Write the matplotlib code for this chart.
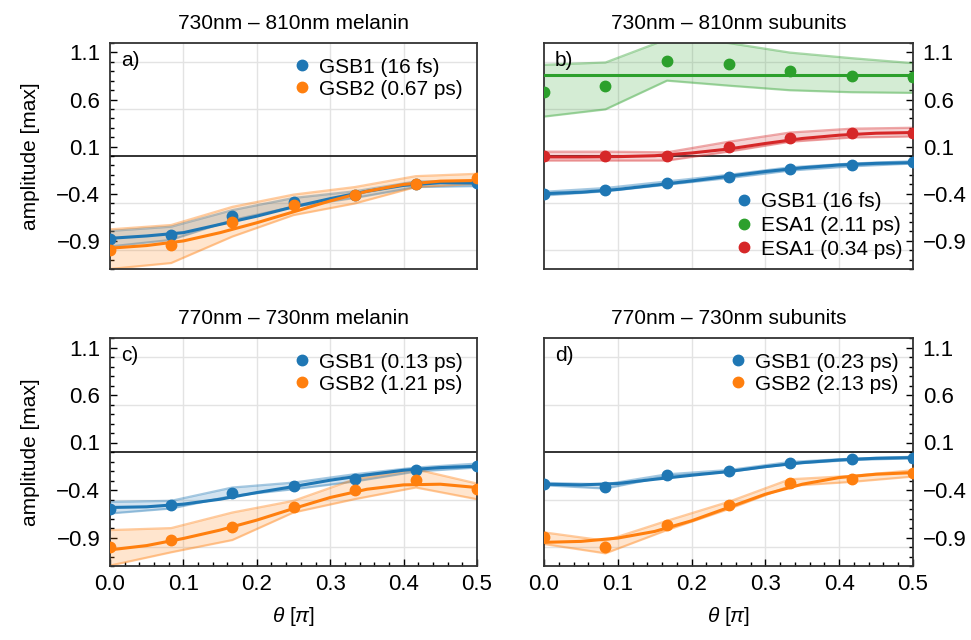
import matplotlib
matplotlib.use('Agg')
import matplotlib.pyplot as plt
from matplotlib.ticker import MultipleLocator, FixedLocator

plt.rcParams['font.family'] = ['Liberation Sans', 'DejaVu Sans']
plt.rcParams['mathtext.fontset'] = 'custom'
plt.rcParams['mathtext.it'] = 'Liberation Sans:italic'
plt.rcParams['mathtext.rm'] = 'Liberation Sans'
plt.rcParams['font.size'] = 15

# angle of the measured points and of the fit curves, in units of pi
theta = [0, 0.0833, 0.1667, 0.25, 0.3333, 0.4167, 0.5]
theta_fit = [0, 0.05, 0.1, 0.15, 0.2, 0.25, 0.3, 0.35, 0.4, 0.45, 0.5]

titles = ['730nm – 810nm melanin', '730nm – 810nm subunits',
          '770nm – 730nm melanin', '770nm – 730nm subunits']
panel_tags = ['a)', 'b)', 'c)', 'd)']

# panel a
a_gsb1_pts = [-0.884, -0.839, -0.635, -0.491, -0.41, -0.302, -0.288]
a_gsb1_hi = [-0.796, -0.751, -0.575, -0.446, -0.375, -0.27, -0.27]
a_gsb1_lo = [-0.961, -0.891, -0.68, -0.54, -0.446, -0.33, -0.32]
a_gsb1_fit = [-0.874, -0.849, -0.814, -0.726, -0.639, -0.54, -0.453, -0.375, -0.312, -0.284, -0.288]
a_gsb2_pts = [-0.996, -0.94, -0.698, -0.516, -0.418, -0.295, -0.235]
a_gsb2_hi = [-0.779, -0.733, -0.54, -0.41, -0.33, -0.214, -0.189]
a_gsb2_lo = [-1.2, -1.137, -0.856, -0.628, -0.505, -0.33, -0.295]
a_gsb2_fit = [-0.979, -0.951, -0.902, -0.814, -0.709, -0.593, -0.477, -0.375, -0.302, -0.267, -0.26]

# panel b
b_gsb1_pts = [-0.40, -0.358, -0.288, -0.218, -0.137, -0.095, -0.067]
b_gsb1_hi = [-0.38, -0.34, -0.27, -0.20, -0.12, -0.08, -0.055]
b_gsb1_lo = [-0.42, -0.375, -0.305, -0.235, -0.155, -0.11, -0.08]
b_gsb1_fit = [-0.40, -0.385, -0.355, -0.31, -0.265, -0.215, -0.165, -0.125, -0.095, -0.078, -0.07]
b_esa_slow_pts = [0.681, 0.74, 1.004, 0.975, 0.898, 0.853, 0.835]
b_esa_slow_hi = [0.968, 0.993, 1.24, 1.2, 1.098, 1.039, 0.986]
b_esa_slow_lo = [0.418, 0.495, 0.8, 0.747, 0.698, 0.677, 0.67]
b_esa_slow_fit = [0.863] * 11
b_esa_fast_pts = [0.004, 0.004, -0.004, 0.091, 0.196, 0.242, 0.249]
b_esa_fast_hi = [0.046, 0.046, 0.039, 0.151, 0.249, 0.29, 0.30]
b_esa_fast_lo = [-0.049, -0.049, -0.049, 0.046, 0.151, 0.196, 0.207]
b_esa_fast_fit = [-0.01, -0.01, -0.007, 0.003, 0.032, 0.074, 0.133, 0.186, 0.221, 0.242, 0.249]

# panel c
c_gsb1_pts = [-0.595, -0.556, -0.427, -0.357, -0.28, -0.189, -0.147]
c_gsb1_hi = [-0.525, -0.514, -0.374, -0.322, -0.234, -0.164, -0.122]
c_gsb1_lo = [-0.647, -0.595, -0.462, -0.392, -0.311, -0.206, -0.164]
c_gsb1_fit = [-0.584, -0.577, -0.549, -0.497, -0.427, -0.364, -0.297, -0.241, -0.192, -0.164, -0.15]
c_gsb2_pts = [-0.997, -0.927, -0.787, -0.574, -0.402, -0.297, -0.392]
c_gsb2_hi = [-0.822, -0.801, -0.637, -0.514, -0.287, -0.182, -0.332]
c_gsb2_lo = [-1.196, -1.056, -0.927, -0.637, -0.497, -0.374, -0.497]
c_gsb2_fit = [-1.03, -0.985, -0.91, -0.822, -0.717, -0.595, -0.479, -0.392, -0.346, -0.339, -0.374]

# panel d
d_gsb1_pts = [-0.339, -0.367, -0.245, -0.199, -0.115, -0.077, -0.059]
d_gsb1_hi = [-0.325, -0.34, -0.235, -0.19, -0.105, -0.07, -0.05]
d_gsb1_lo = [-0.35, -0.385, -0.255, -0.21, -0.125, -0.085, -0.066]
d_gsb1_fit = [-0.339, -0.346, -0.332, -0.287, -0.245, -0.206, -0.154, -0.112, -0.084, -0.066, -0.059]
d_gsb2_pts = [-0.899, -0.997, -0.77, -0.56, -0.322, -0.28, -0.224]
d_gsb2_hi = [-0.846, -0.934, -0.724, -0.525, -0.287, -0.252, -0.192]
d_gsb2_lo = [-0.969, -1.067, -0.822, -0.602, -0.357, -0.315, -0.259]
d_gsb2_fit = [-0.951, -0.941, -0.906, -0.836, -0.724, -0.584, -0.444, -0.339, -0.269, -0.234, -0.217]

blue, orange, green, red = '#1f77b4', '#ff7f0e', '#2ca02c', '#d62728'

panels = [
    [('GSB1 (16 fs)', blue, a_gsb1_pts, a_gsb1_lo, a_gsb1_hi, a_gsb1_fit),
     ('GSB2 (0.67 ps)', orange, a_gsb2_pts, a_gsb2_lo, a_gsb2_hi, a_gsb2_fit)],
    [('GSB1 (16 fs)', blue, b_gsb1_pts, b_gsb1_lo, b_gsb1_hi, b_gsb1_fit),
     ('ESA1 (2.11 ps)', green, b_esa_slow_pts, b_esa_slow_lo, b_esa_slow_hi, b_esa_slow_fit),
     ('ESA1 (0.34 ps)', red, b_esa_fast_pts, b_esa_fast_lo, b_esa_fast_hi, b_esa_fast_fit)],
    [('GSB1 (0.13 ps)', blue, c_gsb1_pts, c_gsb1_lo, c_gsb1_hi, c_gsb1_fit),
     ('GSB2 (1.21 ps)', orange, c_gsb2_pts, c_gsb2_lo, c_gsb2_hi, c_gsb2_fit)],
    [('GSB1 (0.23 ps)', blue, d_gsb1_pts, d_gsb1_lo, d_gsb1_hi, d_gsb1_fit),
     ('GSB2 (2.13 ps)', orange, d_gsb2_pts, d_gsb2_lo, d_gsb2_hi, d_gsb2_fit)],
]

fig = plt.figure(figsize=(9.71, 6.4), dpi=100)
rects = [
    [110 / 971, (640 - 269) / 640, 367 / 971, 226 / 640],
    [544 / 971, (640 - 269) / 640, 369 / 971, 226 / 640],
    [110 / 971, (640 - 566) / 640, 367 / 971, 228 / 640],
    [544 / 971, (640 - 566) / 640, 369 / 971, 228 / 640],
]

for i, series in enumerate(panels):
    ax = fig.add_axes(rects[i])
    ax.set_xlim(0, 0.5)
    ax.set_ylim(-1.2, 1.2)

    # grid lines sit half a step off the labelled ticks
    for g in [-1.0, -0.5, 0.5, 1.0]:
        ax.axhline(g, color='#e3e3e3', lw=1, zorder=0)
    for g in [0.1, 0.2, 0.3, 0.4]:
        ax.axvline(g, color='#e3e3e3', lw=1, zorder=0)
    ax.axhline(0, color='#222222', lw=1.3, zorder=1)

    for label, col, pts, lo, hi, fit in series:
        ax.fill_between(theta, lo, hi, color=col, alpha=0.2, lw=0, zorder=2)
        ax.plot(theta, lo, color=col, alpha=0.4, lw=1.6, zorder=2)
        ax.plot(theta, hi, color=col, alpha=0.4, lw=1.6, zorder=2)
        ax.plot(theta_fit, fit, color=col, lw=2.2, zorder=3)
        ax.plot(theta, pts, 'o', color=col, ms=7.5, label=label, zorder=4)

    ax.yaxis.set_major_locator(FixedLocator([-0.9, -0.4, 0.1, 0.6, 1.1]))
    ax.set_yticklabels(['\u22120.9', '\u22120.4', '0.1', '0.6', '1.1'])
    ax.yaxis.set_minor_locator(MultipleLocator(0.1))
    ax.xaxis.set_major_locator(MultipleLocator(0.1))
    ax.xaxis.set_minor_locator(MultipleLocator(0.02))
    right = i % 2 == 1
    bottom = i >= 2
    ax.tick_params(axis='y', which='both', direction='in', left=not right, right=right,
                   labelleft=not right, labelright=right, labelsize=16, pad=7)
    ax.tick_params(axis='y', which='major', length=5, width=1)
    ax.tick_params(axis='y', which='minor', length=3, width=1)
    ax.tick_params(axis='x', which='both', direction='in', top=False,
                   bottom=bottom, labelbottom=bottom, labelsize=16, pad=6)
    ax.tick_params(axis='x', which='major', length=5, width=1)
    ax.tick_params(axis='x', which='minor', length=3, width=1)
    ax.xaxis.set_major_formatter(matplotlib.ticker.FormatStrFormatter('%.1f'))
    for s in ax.spines.values():
        s.set_color('#333333')
        s.set_linewidth(1.3)

    ax.set_title(titles[i], fontsize=15, pad=10)
    ax.text(0.03, 0.965, panel_tags[i], transform=ax.transAxes, fontsize=15,
            va='top', ha='left')
    if not right:
        ax.set_ylabel('amplitude [max]', fontsize=15, labelpad=12)
    if bottom:
        ax.set_xlabel(r'$\theta$ [$\pi$]', fontsize=15, labelpad=7)

    if i == 1:
        ax.legend(loc='lower right', frameon=False, fontsize=15, handlelength=0.8,
                  handletextpad=0.4, labelspacing=0.22, borderaxespad=0.1)
    else:
        ax.legend(loc='upper right', frameon=False, fontsize=15, handlelength=0.8,
                  handletextpad=0.4, labelspacing=0.15, borderaxespad=0.3)

fig.savefig('out.png', dpi=100)
